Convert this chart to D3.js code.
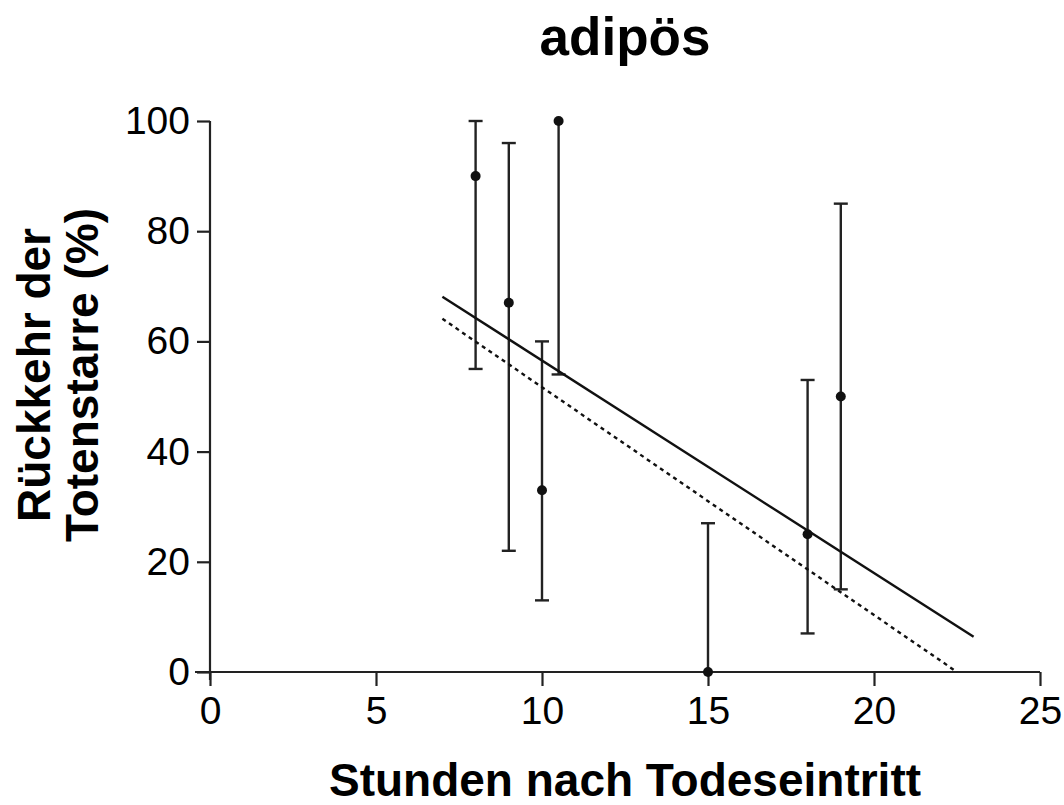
<!DOCTYPE html>
<html>
<head>
<meta charset="utf-8">
<script src="https://cdn.jsdelivr.net/npm/d3@7"></script>
<style>
  body { margin: 0; background: #fff; }
  svg { display: block; font-family: "Liberation Sans", Arial, sans-serif; }
</style>
</head>
<body>
<svg width="1064" height="805"></svg>
<script>
// hours after death, mean return of rigor (%) and error range
let hours = [8, 9, 10, 10.5, 15, 18, 19]
let means = [90, 67, 33, 100, 0, 25, 50]
let lows = [55, 22, 13, 54, 0, 7, 15]
let highs = [100, 96, 60, 100, 27, 53, 85]

// regression line and its lower band (start / end)
let fitX = [7, 23]
let fitY = [68.1, 6.4]
let bandX = [7, 22.5]
let bandY = [64.1, 0]

let xTicks = [0, 5, 10, 15, 20, 25]
let yTicks = [0, 20, 40, 60, 80, 100]

let margin = { top: 121, right: 24, bottom: 133, left: 210 }
let width = 1064
let height = 805

let x = d3.scaleLinear().domain([0, 25]).range([margin.left, width - margin.right])
let y = d3.scaleLinear().domain([0, 100]).range([height - margin.bottom, margin.top])

const svg = d3.select('svg')

// axes
let xAxis = svg
  .append('g')
  .attr('transform', `translate(0,${y(0)})`)
  .call(d3.axisBottom(x).tickValues(xTicks).tickSize(14).tickSizeOuter(0).tickPadding(10))
xAxis.select('.domain').attr('d', `M${x(0) - 15},0H${x(25)}`)

let yAxis = svg
  .append('g')
  .attr('transform', `translate(${x(0)},0)`)
  .call(d3.axisLeft(y).tickValues(yTicks).tickSize(13).tickSizeOuter(0).tickPadding(7))
yAxis.select('.domain').attr('d', `M0,${y(100)}V${y(0) + 8}`)

svg.selectAll('.tick text').attr('font-size', 39).attr('fill', '#000')
svg.selectAll('.domain, .tick line').attr('stroke', '#222').attr('stroke-width', 2.2)

let data = hours.map((h, i) => ({ h: h, m: means[i], lo: lows[i], hi: highs[i] }))

// error bars
let bars = svg.append('g').attr('stroke', '#222').attr('stroke-width', 2.4)
bars
  .selectAll('line.err')
  .data(data)
  .enter()
  .append('line')
  .attr('x1', d => x(d.h))
  .attr('x2', d => x(d.h))
  .attr('y1', d => y(d.lo))
  .attr('y2', d => y(d.hi))

let caps = []
data.forEach(d => {
  if (d.hi !== d.m) caps.push({ h: d.h, v: d.hi })
  if (d.lo !== d.m) caps.push({ h: d.h, v: d.lo })
})
bars
  .selectAll('line.cap')
  .data(caps)
  .enter()
  .append('line')
  .attr('x1', d => x(d.h) - 7)
  .attr('x2', d => x(d.h) + 7)
  .attr('y1', d => y(d.v))
  .attr('y2', d => y(d.v))

// points
svg
  .append('g')
  .selectAll('circle')
  .data(data)
  .enter()
  .append('circle')
  .attr('cx', d => x(d.h))
  .attr('cy', d => y(d.m))
  .attr('r', 5)
  .attr('fill', '#111')

// fit lines
let line = d3.line().x(d => x(d[0])).y(d => y(d[1]))
svg
  .append('path')
  .attr('d', line(d3.zip(fitX, fitY)))
  .attr('fill', 'none')
  .attr('stroke', '#111')
  .attr('stroke-width', 2.4)
svg
  .append('path')
  .attr('d', line(d3.zip(bandX, bandY)))
  .attr('fill', 'none')
  .attr('stroke', '#111')
  .attr('stroke-width', 2.4)
  .attr('stroke-dasharray', '4,4')

// title and labels
svg
  .append('text')
  .attr('x', 625)
  .attr('y', 55)
  .attr('text-anchor', 'middle')
  .attr('font-size', 53)
  .attr('font-weight', 'bold')
  .text('adipös')

svg
  .append('text')
  .attr('x', 625)
  .attr('y', 796)
  .attr('text-anchor', 'middle')
  .attr('font-size', 46)
  .attr('font-weight', 'bold')
  .text('Stunden nach Todeseintritt')

let ylab = svg
  .append('text')
  .attr('transform', 'translate(50,375) rotate(-90)')
  .attr('text-anchor', 'middle')
  .attr('font-size', 46)
  .attr('font-weight', 'bold')
ylab.append('tspan').attr('x', 0).attr('dy', 0).text('Rückkehr der')
ylab.append('tspan').attr('x', 0).attr('dy', 48).text('Totenstarre (%)')
</script>
</body>
</html>
